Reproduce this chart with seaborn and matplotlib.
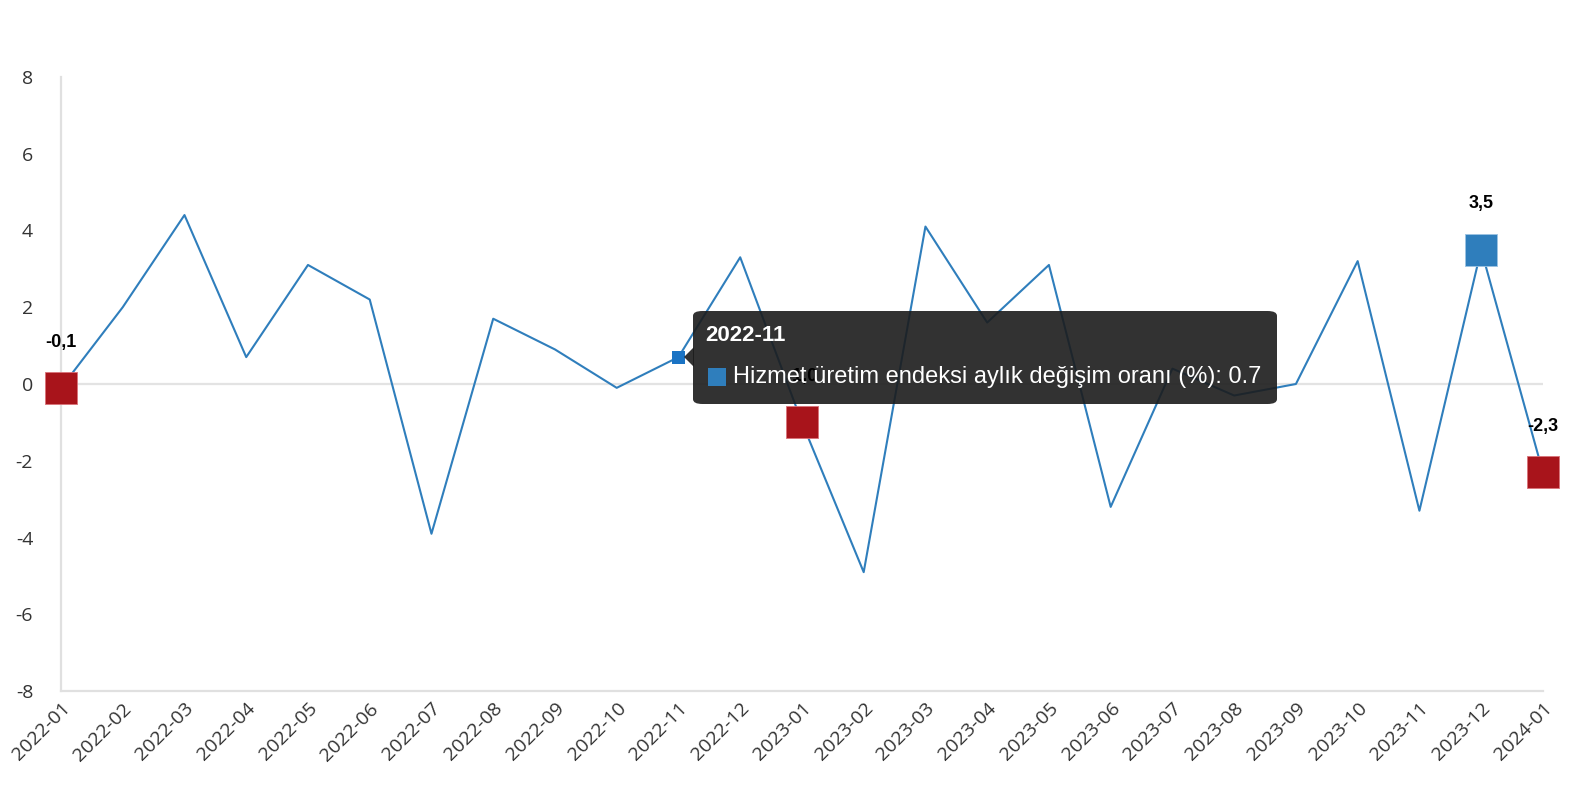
import pandas as pd
import matplotlib
matplotlib.use('Agg')
import matplotlib.pyplot as plt
from matplotlib.patches import FancyBboxPatch, Polygon, Rectangle
import seaborn as sns

# Data
months = ['2022-01', '2022-02', '2022-03', '2022-04', '2022-05', '2022-06',
          '2022-07', '2022-08', '2022-09', '2022-10', '2022-11', '2022-12',
          '2023-01', '2023-02', '2023-03', '2023-04', '2023-05', '2023-06',
          '2023-07', '2023-08', '2023-09', '2023-10', '2023-11', '2023-12',
          '2024-01']
values = [-0.1, 2.0, 4.4, 0.7, 3.1, 2.2, -3.9, 1.7, 0.9, -0.1, 0.7, 3.3,
          -1.0, -4.9, 4.1, 1.6, 3.1, -3.2, 0.4, -0.3, 0.0, 3.2, -3.3, 3.5,
          -2.3]
red_months = ['2022-01', '2023-01', '2024-01']
blue_months = ['2023-12']
hover_month = '2022-11'
series_name = 'Hizmet üretim endeksi aylık değişim oranı (%)'
yticks = [-8, -6, -4, -2, 0, 2, 4, 6, 8]

df = pd.DataFrame({'month': months, 'value': values})

sns.set_style('white')
plt.rcParams['font.family'] = ['Open Sans', 'DejaVu Sans']

fig = plt.figure(figsize=(15.76, 8), dpi=100)
ax = fig.add_axes([0.0387, 0.136, 0.9403, 0.768])

line_col = '#2f7ebc'
red_col = '#a8141b'

ax.axhline(0, color='#e3e3e3', lw=1.6, zorder=1)
sns.lineplot(data=df, x='month', y='value', color=line_col, lw=1.5, ax=ax,
             zorder=2, sort=False)

red = df[df.month.isin(red_months)]
blue = df[df.month.isin(blue_months)]
hov = df[df.month == hover_month]
sns.scatterplot(data=red, x='month', y='value', marker='s', s=560, color=red_col,
                edgecolor='#d9737a', linewidth=0.6, ax=ax, zorder=3)
sns.scatterplot(data=blue, x='month', y='value', marker='s', s=560, color=line_col,
                edgecolor='#9cc3e2', linewidth=0.6, ax=ax, zorder=3)
sns.scatterplot(data=hov, x='month', y='value', marker='s', s=90, color='#1a73c4',
                edgecolor='none', ax=ax, zorder=3)
for c in ax.collections:
    c.set_clip_on(False)

ax.set_xlim(0, len(months) - 1)
ax.set_ylim(-8, 8)
ax.set_yticks(yticks)
ax.set_yticklabels([str(t) for t in yticks])
ax.set_xlabel('')
ax.set_ylabel('')
ax.tick_params(axis='y', labelsize=14, colors='#333333', length=0, pad=20)
ax.tick_params(axis='x', labelsize=14, colors='#333333', length=0, pad=6)
plt.setp(ax.get_xticklabels(), rotation=45, ha='right', rotation_mode='anchor')
for s in ['top', 'right']:
    ax.spines[s].set_visible(False)
for s in ['left', 'bottom']:
    ax.spines[s].set_color('#e0e0e0')
    ax.spines[s].set_linewidth(1.6)

# tooltip
tf = fig.transFigure
W, H = 1576.0, 800.0
tip_col = (0.11, 0.11, 0.11, 0.9)
box = FancyBboxPatch((693 / W, 1 - 404 / H), 584 / W, 93 / H,
                     boxstyle='round,pad=0,rounding_size=0.006',
                     transform=tf, facecolor=tip_col,
                     edgecolor='none', zorder=5, clip_on=False)
ax.add_patch(box)
tri = Polygon([(684 / W, 1 - 357 / H), (694 / W, 1 - 347 / H), (694 / W, 1 - 367 / H)],
              closed=True, transform=tf, facecolor=tip_col,
              edgecolor='none', zorder=5, clip_on=False)
ax.add_patch(tri)
ax.add_patch(Rectangle((708 / W, 1 - 386 / H), 18 / W, 18 / H, transform=tf,
                       facecolor=line_col, edgecolor='none', zorder=6, clip_on=False))
fig.text(705 / W, 1 - 336 / H, hover_month, color='white', fontsize=16,
         fontweight='bold', family=['Liberation Sans'], va='center', zorder=6)
fig.text(733 / W, 1 - 377 / H, f'{series_name}: {values[months.index(hover_month)]}',
         color='white', fontsize=17, family=['Liberation Sans'], va='center', zorder=6)

# data labels
for m, v in zip(months, values):
    if m in red_months or m in blue_months:
        i = months.index(m)
        ax.annotate(f'{v:.1f}'.replace('.', ','), (i, v), xytext=(0, 33),
                    textcoords='offset points', ha='center', va='center',
                    fontsize=13, fontweight='bold', family=['Liberation Sans'],
                    color='black', zorder=7, annotation_clip=False)

plt.savefig('out.png', dpi=100)
